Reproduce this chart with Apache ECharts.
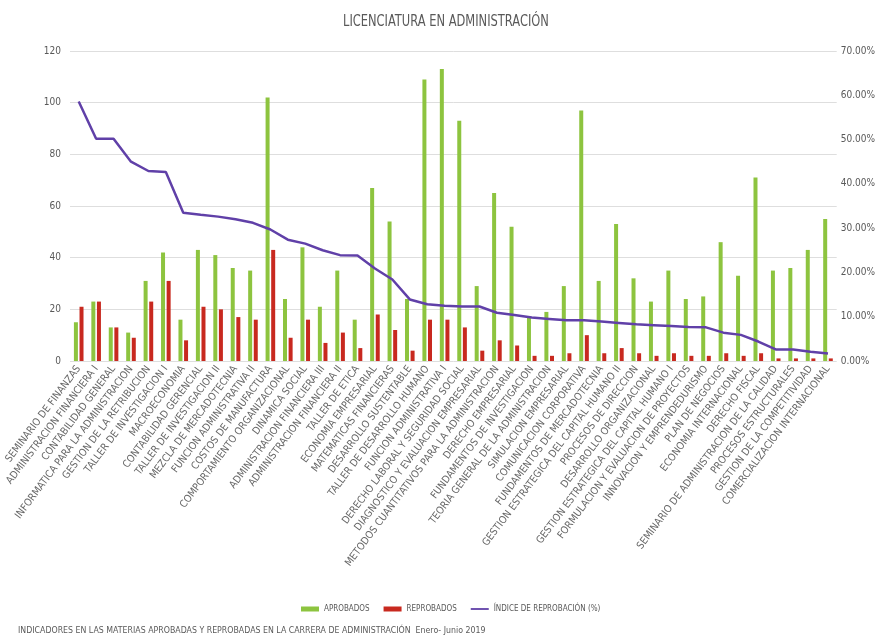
<!DOCTYPE html>
<html>
<head>
<meta charset="utf-8">
<script src="https://cdn.jsdelivr.net/npm/echarts@6/dist/echarts.min.js"></script>
<style>
html,body{margin:0;padding:0;background:#fff;}
#chart{width:878px;height:642px;}
</style>
</head>
<body>
<div id="chart"></div>
<script>
const categories = [
  "SEMINARIO DE FINANZAS","ADMINISTRACION FINANCIERA I","CONTABILIDAD GENERAL",
  "INFORMATICA PARA LA ADMINISTRACION","GESTION DE LA RETRIBUCION","TALLER DE INVESTIGACION I",
  "MACROECONOMIA","CONTABILIDAD GERENCIAL","TALLER DE INVESTIGACION II","MEZCLA DE MERCADOTECNIA",
  "FUNCION ADMINISTRATIVA II","COSTOS DE MANUFACTURA","COMPORTAMIENTO ORGANIZACIONAL",
  "DINAMICA SOCIAL","ADMINISTRACION FINANCIERA III","ADMINISTRACION FINANCIERA II",
  "TALLER DE ETICA","ECONOMIA EMPRESARIAL","MATEMATICAS FINANCIERAS","DESARROLLO SUSTENTABLE",
  "TALLER DE DESARROLLO HUMANO","FUNCION ADMINISTRATIVA I","DERECHO LABORAL Y SEGURIDAD SOCIAL",
  "DIAGNOSTICO Y EVALUACION EMPRESARIAL","METODOS CUANTITATIVOS PARA LA ADMINISTRACION",
  "DERECHO EMPRESARIAL","FUNDAMENTOS DE INVESTIGACION","TEORIA GENERAL DE LA ADMINISTRACION",
  "SIMULACION EMPRESARIAL","COMUNICACION CORPORATIVA","FUNDAMENTOS DE MERCADOTECNIA",
  "GESTION ESTRATEGICA DEL CAPITAL HUMANO II","PROCESOS DE DIRECCION","DESARROLLO ORGANIZACIONAL",
  "GESTION ESTRATEGICA DEL CAPITAL HUMANO I","FORMULACION Y EVALUACION DE PROYECTOS",
  "INNOVACION Y EMPRENDEDURISMO","PLAN DE NEGOCIOS","ECONOMIA INTERNACIONAL","DERECHO FISCAL",
  "SEMINARIO DE ADMINISTRACION DE LA CALIDAD","PROCESOS ESTRUCTURALES",
  "GESTION DE LA COMPETITIVIDAD","COMERCIALIZACION INTERNACIONAL"
];
const aprobados = [15,23,13,11,31,42,16,43,41,36,35,102,24,44,21,35,16,67,54,24,109,113,93,29,65,52,17,19,29,97,31,53,32,23,35,24,25,46,33,71,35,36,43,55];
const reprobados = [21,23,13,9,23,31,8,21,20,17,16,43,9,16,7,11,5,18,12,4,16,16,13,4,8,6,2,2,3,10,3,5,3,2,3,2,2,3,2,3,1,1,1,1];
const indice = [58.6,50.2,50.2,45.0,42.9,42.7,33.5,33.0,32.6,32.0,31.2,29.7,27.4,26.5,25.0,23.9,23.8,20.9,18.4,13.9,12.8,12.5,12.3,12.3,10.9,10.4,9.8,9.5,9.2,9.2,8.9,8.6,8.3,8.1,7.9,7.7,7.6,6.4,5.9,4.4,2.6,2.6,2.1,1.7];
const leftTicks = [0,20,40,60,80,100,120];
const rightTicks = [0,10,20,30,40,50,60,70];

const FONT = "'Liberation Sans Narrow','DejaVu Sans Condensed','Roboto Condensed',sans-serif";
const GRAY = '#595959';

const chart = echarts.init(document.getElementById('chart'));
chart.setOption({
  backgroundColor: '#ffffff',
  animation: false,
  graphic: [
    { type: 'text', left: 343, top: 15, scaleX: 0.85,
      style: { text: 'LICENCIATURA EN ADMINISTRACIÓN', fill: GRAY, font: "15px " + FONT } },
    { type: 'text', left: 18, top: 626, scaleX: 0.97,
      style: { text: 'INDICADORES EN LAS MATERIAS APROBADAS Y REPROBADAS EN LA CARRERA DE ADMINISTRACIÓN  Enero- Junio 2019', fill: GRAY, font: "9px " + FONT } }
  ],
  legend: {
    left: 296, top: 600,
    itemWidth: 18, itemHeight: 5, itemGap: 14,
    textStyle: { color: GRAY, fontFamily: FONT, fontSize: 8 },
    data: [
      { name: 'APROBADOS', icon: 'rect' },
      { name: 'REPROBADOS', icon: 'rect' },
      { name: 'ÍNDICE DE REPROBACIÓN (%)', icon: 'path://M0,0 L20,0 L20,2 L0,2 Z' }
    ]
  },
  grid: { left: 70, right: 38, top: 51, bottom: 281, containLabel: false },
  xAxis: {
    type: 'category', data: categories,
    axisLine: { show: false }, axisTick: { show: false },
    axisLabel: { interval: 0, rotate: 53, color: '#666666', fontFamily: FONT, fontSize: 10.3, margin: 6 }
  },
  yAxis: [
    { type: 'value', min: leftTicks[0], max: leftTicks[leftTicks.length-1], interval: 20,
      axisLine: { show: false }, axisTick: { show: false },
      splitLine: { lineStyle: { color: '#dedede', width: 1 } },
      axisLabel: { color: GRAY, fontFamily: FONT, fontSize: 10, margin: 9 } },
    { type: 'value', min: rightTicks[0], max: rightTicks[rightTicks.length-1], interval: 10,
      axisLine: { show: false }, axisTick: { show: false }, splitLine: { show: false },
      axisLabel: { color: GRAY, fontFamily: FONT, fontSize: 10, margin: 4,
        formatter: v => v.toFixed(2) + '%' } }
  ],
  series: [
    { name: 'APROBADOS', type: 'bar', data: aprobados, barWidth: 4, barGap: '40%',
      itemStyle: { color: '#8DC43F' } },
    { name: 'REPROBADOS', type: 'bar', data: reprobados, barWidth: 4,
      itemStyle: { color: '#C8291F' } },
    { name: 'ÍNDICE DE REPROBACIÓN (%)', type: 'line', yAxisIndex: 1, data: indice,
      symbol: 'none', lineStyle: { color: '#6040A8', width: 2.5 },
      itemStyle: { color: '#6040A8' } }
  ]
});
</script>
</body>
</html>
